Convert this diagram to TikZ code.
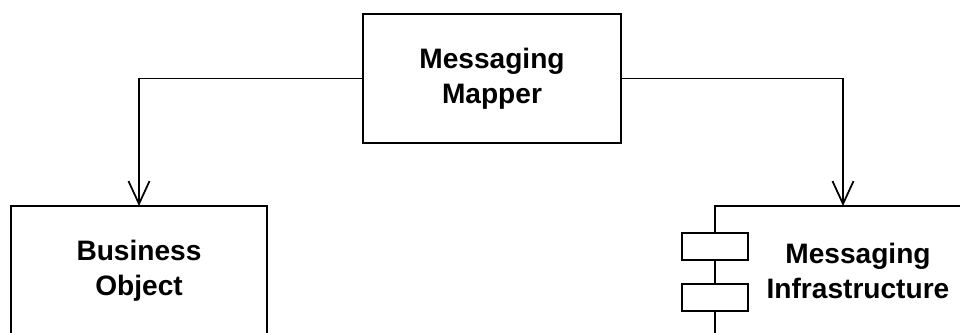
\documentclass[tikz,border=0pt]{standalone}
\usepackage{fontspec}
\setmainfont{Liberation Sans}
\usetikzlibrary{arrows.meta,positioning,calc}
\tikzset{
  classbox/.style ={draw,line width=1pt,fill=white,outer sep=0pt,align=center,
                    font=\fontsize{16}{20}\selectfont\bfseries,minimum width=5.16cm,minimum height=2.6cm},
  compbox/.style  ={classbox,minimum width=5.72cm},
  port/.style     ={draw,line width=1pt,fill=white,outer sep=0pt,inner sep=0pt,
                    minimum width=1.32cm,minimum height=0.54cm},
  arrow/.style    ={-{Straight Barb[length=13pt,width=12pt]},line width=1pt}
}
\begin{document}
\begin{tikzpicture}[x=0.02cm,y=-0.02cm]
    \clip (0,0) rectangle (960,333);
    \node[classbox, minimum height=2.58cm] (mapper) at (492,78.5) {Messaging\\Mapper};
    \node[classbox, minimum width=5.12cm, anchor=north] (bizobj) at (139,206) {Business\\Object};
    \node[compbox, anchor=north west] (infra) at (715,206) {Messaging\\Infrastructure};
    \node[port] (port1) at ($(infra.north west)+(0,40.5)$) {};
    \node[port] (port2) at ($(infra.north west)+(0,91.5)$) {};
    \draw[arrow] (mapper.west) -| (bizobj.north);
    \draw[arrow] (mapper.east) -| ($(infra.north west)+(128,0)$);
  \end{tikzpicture}
\end{document}
